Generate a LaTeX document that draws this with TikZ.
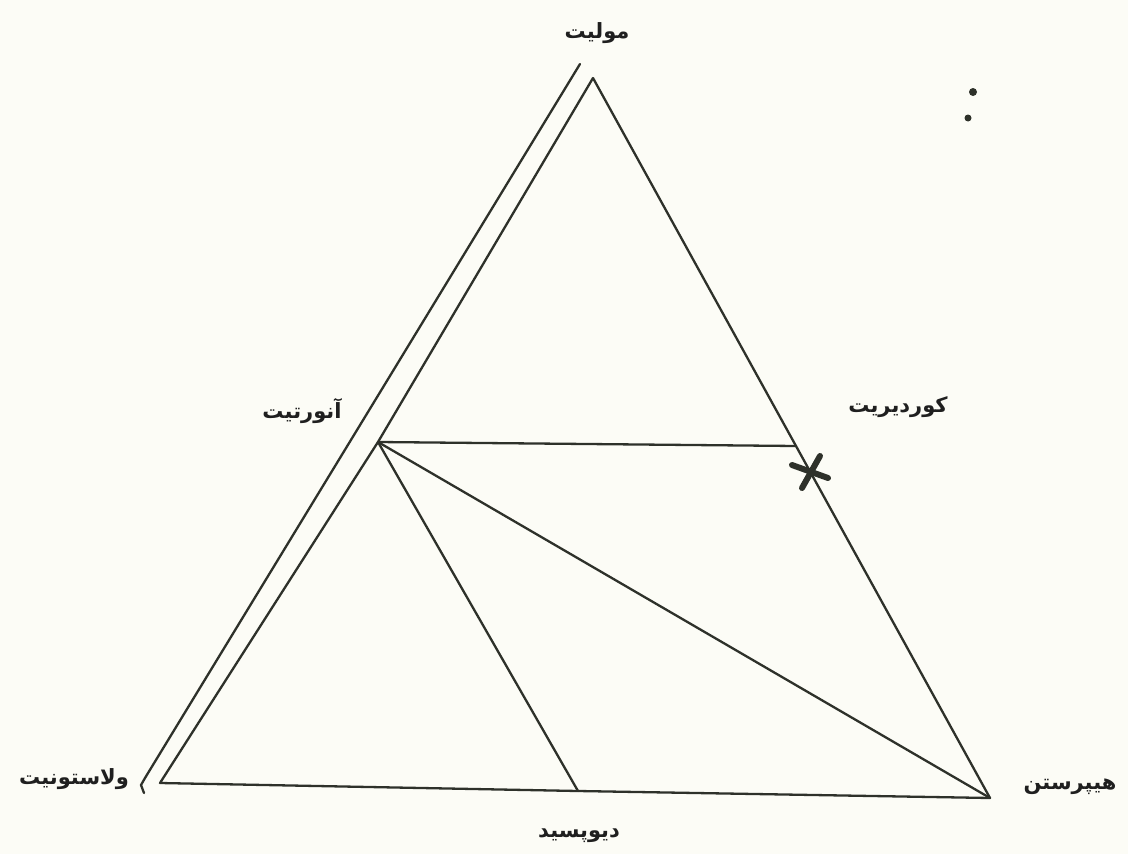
\documentclass[tikz,border=0pt]{standalone}
\usepackage{fontspec}
\usetikzlibrary{calc}
\TeXXeTstate=1
\newfontfamily\arabicfont[Script=Arabic]{DejaVu Sans}
\definecolor{ink}{HTML}{2E312A}
\definecolor{paper}{HTML}{FCFCF6}
\tikzset{
    side/.style={draw=ink, line width=2.3pt, line cap=round, line join=round},
    phase/.style={font=\arabicfont\bfseries\fontsize{21}{24}\selectfont, text=black!88, inner sep=0pt},
    cross/.style={draw=ink, line width=6pt, line cap=round}
}

\begin{document}
\begin{tikzpicture}[x=1pt,y=-1pt]
    \fill[paper] (0,0) rectangle (1128,854);
    \useasboundingbox (0,0) rectangle (1128,854);
    % corners and points on the sides
    \coordinate (mul) at (593,78);
    \coordinate (wol) at (160,783);
    \coordinate (hyp) at (990,798);
    \coordinate (an) at (378,442);
    \coordinate (di) at (578,791);
    \coordinate (cord) at (796,446);
    % outer line along the left side
    \coordinate (outtop) at (580,64);
    \coordinate (outbot) at (145,778);
    \draw [side] (outtop) -- (outbot) -- ++(-4,7) -- ++(3,8);
    % triangle
    \draw [side] (mul) -- (an) -- (wol) -- (di) -- (hyp) -- (cord) -- (mul);
    % tie lines from anorthite
    \draw [side] (an) -- (cord);
    \draw [side] (an) -- (di);
    \draw [side] (an) -- (hyp);
    % cordierite mark
    \draw [cross] (792,465) -- (828,478);
    \draw [cross] (820,456) -- (802,488);
    % labels
    \node [phase] (lmul) at (597,33) {\beginR مولیت\endR};
    \node [phase] (lwol) at (74,779) {\beginR ولاستونیت\endR};
    \node [phase] (lhyp) at (1070,787) {\beginR هیپرستن\endR};
    \node [phase] (ldi) at (579,836) {\beginR دیوپسید\endR};
    \node [phase] (lan) at (302,411) {\beginR آنورتیت\endR};
    \node [phase] (lcord) at (898,407) {\beginR کوردیریت\endR};
    % two marks at top right
    \fill [ink] (973,92) circle (4);
    \fill [ink] (968,118) circle (3.5);
\end{tikzpicture}
\end{document}
